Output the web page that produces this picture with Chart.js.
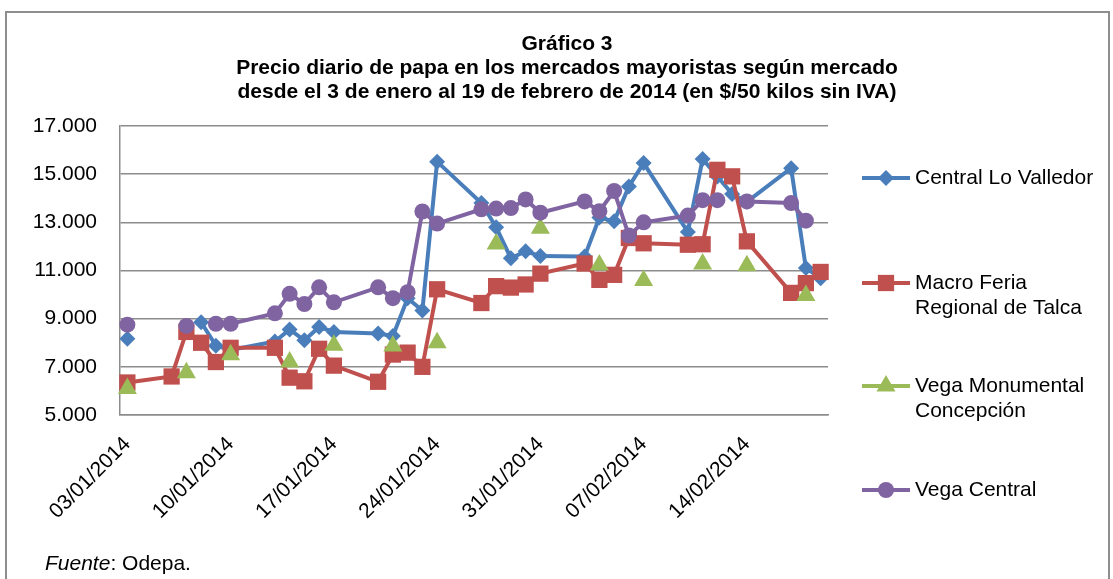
<!DOCTYPE html>
<html>
<head>
<meta charset="utf-8">
<script src="https://cdn.jsdelivr.net/npm/chart.js@4.4.1/dist/chart.umd.min.js"></script>
<style>
  body { margin: 0; background: #fff; }
  #wrap { position: relative; width: 1113px; height: 579px; overflow: hidden; font-family: "Liberation Sans", Arial, sans-serif; color: #000; }
  #marco { position: absolute; left: 5px; top: 11px; width: 1105px; height: 620px; border: 2px solid #8e8e8e; box-sizing: border-box; }
  #titulo { position: absolute; left: 117px; width: 900px; top: 31px; text-align: center; font-weight: bold; font-size: 21px; line-height: 24px; }
  #fuente { position: absolute; left: 45px; top: 551px; font-size: 21px; }
  canvas { position: absolute; left: 0; top: 0; }
</style>
</head>
<body>
<div id="wrap">
  <div id="marco"></div>
  <canvas id="chart" width="1113" height="579"></canvas>
  <div id="titulo">Gráfico 3<br>Precio diario de papa en los mercados mayoristas según mercado<br>desde el 3 de enero al 19 de febrero de 2014 (en $/50 kilos sin IVA)</div>
  <div id="fuente"><i>Fuente</i>: Odepa.</div>
</div>
<script>
// todos los dias del eje (el eje es de fechas)
var dias = ["03/01/2014","04/01/2014","05/01/2014","06/01/2014","07/01/2014","08/01/2014","09/01/2014",
  "10/01/2014","11/01/2014","12/01/2014","13/01/2014","14/01/2014","15/01/2014","16/01/2014",
  "17/01/2014","18/01/2014","19/01/2014","20/01/2014","21/01/2014","22/01/2014","23/01/2014",
  "24/01/2014","25/01/2014","26/01/2014","27/01/2014","28/01/2014","29/01/2014","30/01/2014",
  "31/01/2014","01/02/2014","02/02/2014","03/02/2014","04/02/2014","05/02/2014","06/02/2014",
  "07/02/2014","08/02/2014","09/02/2014","10/02/2014","11/02/2014","12/02/2014","13/02/2014",
  "14/02/2014","15/02/2014","16/02/2014","17/02/2014","18/02/2014","19/02/2014"];

// etiquetas visibles del eje x
var etiquetasX = ["03/01/2014","10/01/2014","17/01/2014","24/01/2014","31/01/2014","07/02/2014","14/02/2014"];

// dias con datos
var fechas = ["03/01/2014","06/01/2014","07/01/2014","08/01/2014","09/01/2014","10/01/2014",
  "13/01/2014","14/01/2014","15/01/2014","16/01/2014","17/01/2014",
  "20/01/2014","21/01/2014","22/01/2014","23/01/2014","24/01/2014",
  "27/01/2014","28/01/2014","29/01/2014","30/01/2014","31/01/2014",
  "03/02/2014","04/02/2014","05/02/2014","06/02/2014","07/02/2014",
  "10/02/2014","11/02/2014","12/02/2014","13/02/2014","14/02/2014",
  "17/02/2014","18/02/2014","19/02/2014"];

var loValledor = [8170, null, null, 8850, 7880, 7700,
  8050, 8550, 8100, 8650, 8450,
  8380, 8280, 9850, 9340, 15520,
  13800, 12800, 11510, 11800, 11600,
  11580, 13200, 13040, 14490, 15460,
  12600, 15630, 14900, 14180, 13850,
  15250, 11100, 10680];

var talca = [6350, 6600, 8450, 8000, 7200, 7790,
  7790, 6550, 6400, 7750, 7050,
  6380, 7510, 7590, 7000, 10220,
  9650, 10350, 10290, 10420, 10870,
  11290, 10610, 10820, 12350, 12130,
  12070, 12090, 15180, 14910, 12210,
  10070, 10475, 10940];

var concepcion = [6100, null, 6750, null, null, 7500,
  null, 7200, null, null, 7900,
  null, 7870, null, null, 8000,
  null, 12100, null, null, 12750,
  null, 11230, null, null, 10580,
  null, 11270, null, null, 11200,
  null, 9960, null];

var vegaCentral = [8750, null, 8700, null, 8790, 8790,
  9220, 10030, 9610, 10300, 9680,
  10300, 9850, 10100, 13450, 12950,
  13540, 13570, 13590, 13950, 13400,
  13870, 13460, 14300, 12450, 13000,
  13280, 13920, 13920, null, 13870,
  13800, 13070, null];

var nombres = ["Central Lo Valledor", "Macro Feria Regional de Talca", "Vega Monumental Concepción", "Vega Central"];
var lineasLeyenda = [["Central Lo Valledor"], ["Macro Feria", "Regional de Talca"], ["Vega Monumental", "Concepción"], ["Vega Central"]];
var colores = ["#4a7ebb", "#c0504d", "#9bbb59", "#8064a2"];
var marcas = ["rectRot", "rect", "triangle", "circle"];
var radios = [8, 11.5, 11, 8];
var leyendaY = [178, 283, 386, 490];

var fuente = '"Liberation Sans", Arial, sans-serif';

function puntos(serie) {
  return fechas.map(function(f, k) { return { x: f, y: serie[k] }; });
}

function miles(v) {
  return String(v).replace(/\B(?=(\d{3})+(?!\d))/g, ".");
}

function marca(ctx, tipo, x, y, r) {
  ctx.beginPath();
  if (tipo == "rectRot") {
    ctx.moveTo(x, y - r); ctx.lineTo(x + r, y); ctx.lineTo(x, y + r); ctx.lineTo(x - r, y);
  } else if (tipo == "rect") {
    var s = r * Math.SQRT1_2;
    ctx.rect(x - s, y - s, 2 * s, 2 * s);
  } else if (tipo == "triangle") {
    ctx.moveTo(x, y - r);
    ctx.lineTo(x + r * Math.sin(2 * Math.PI / 3), y + r / 2);
    ctx.lineTo(x - r * Math.sin(2 * Math.PI / 3), y + r / 2);
  } else {
    ctx.arc(x, y, r, 0, Math.PI * 2);
  }
  ctx.closePath();
  ctx.fill();
}

var leyenda = {
  id: "leyenda",
  afterDraw: function(chart) {
    var ctx = chart.ctx;
    ctx.save();
    ctx.font = "21px " + fuente;
    ctx.textBaseline = "middle";
    for (var i = 0; i < 4; i++) {
      var y = leyendaY[i];
      ctx.strokeStyle = colores[i];
      ctx.fillStyle = colores[i];
      ctx.lineWidth = 4;
      ctx.beginPath();
      ctx.moveTo(862, y); ctx.lineTo(910, y);
      ctx.stroke();
      marca(ctx, marcas[i], 886, y, radios[i]);
      ctx.fillStyle = "#000";
      lineasLeyenda[i].forEach(function(t, j) {
        ctx.fillText(t, 915, y + j * 25);
      });
    }
    ctx.restore();
  }
};

var series = [loValledor, talca, concepcion, vegaCentral];
var datasets = series.map(function(s, i) {
  return {
    label: nombres[i],
    data: puntos(s),
    borderColor: colores[i],
    backgroundColor: colores[i],
    borderWidth: 4,
    pointStyle: marcas[i],
    pointRadius: radios[i],
    pointBorderWidth: 0,
    spanGaps: false,
    tension: 0,
    clip: false,
    order: 3 - i
  };
});

window.onload = function() {
  var ctx = document.getElementById("chart").getContext("2d");
  window.theChart = new Chart(ctx, {
    type: "line",
    data: { labels: dias, datasets: datasets },
    options: {
      responsive: false,
      animation: false,
      layout: { padding: { top: 126, right: 285, left: 0, bottom: 0 } },
      plugins: {
        legend: { display: false },
        title: { display: false },
        tooltip: { enabled: false }
      },
      scales: {
        x: {
          type: "category",
          offset: true,
          grid: { display: false, drawTicks: false },
          border: { display: true, color: "#8c8c8c", width: 1.5 },
          ticks: {
            autoSkip: false,
            minRotation: 45,
            maxRotation: 45,
            padding: 17,
            color: "#000",
            font: { family: fuente, size: 21 },
            callback: function(v) {
              var l = this.getLabelForValue(v);
              return etiquetasX.indexOf(l) >= 0 ? l : "";
            }
          },
          afterFit: function(s) { s.height = 164; }
        },
        y: {
          min: 5000,
          max: 17000,
          grid: { color: "#8c8c8c", lineWidth: 1.5, drawTicks: false },
          border: { display: true, color: "#8c8c8c", width: 1.5 },
          ticks: {
            stepSize: 2000,
            padding: 23,
            color: "#000",
            font: { family: fuente, size: 21 },
            callback: function(v) { return miles(v); }
          },
          afterFit: function(s) { s.width = 120; }
        }
      }
    },
    plugins: [leyenda]
  });
};
</script>
</body>
</html>
